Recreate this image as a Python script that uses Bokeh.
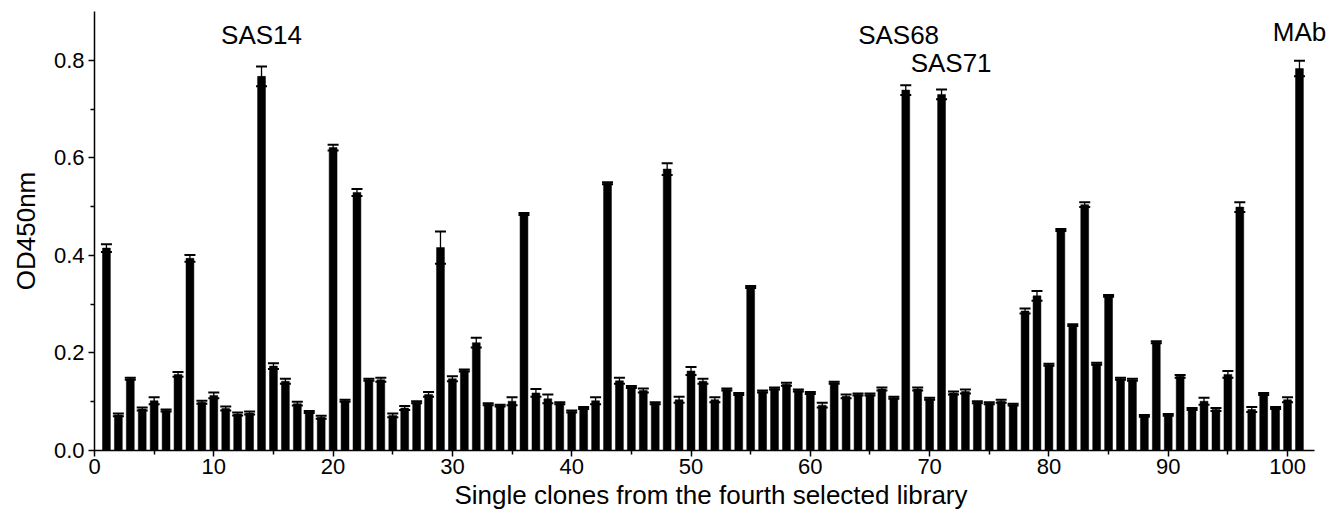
from bokeh.plotting import figure
from bokeh.models import ColumnDataSource, Whisker, TeeHead, FixedTicker, NumeralTickFormatter, Range1d, LabelSet
from bokeh.core.properties import value
from bokeh.embed import file_html
from bokeh.resources import INLINE

clones = list(range(1, 102))
od450 = [
    0.415, 0.073, 0.147, 0.085, 0.102, 0.082, 0.156, 0.394, 0.099, 0.113,
    0.086, 0.075, 0.077, 0.767, 0.173, 0.142, 0.096, 0.079, 0.068, 0.621,
    0.102, 0.529, 0.145, 0.145, 0.072, 0.087, 0.099, 0.115, 0.416, 0.147,
    0.164, 0.221, 0.095, 0.092, 0.101, 0.485, 0.118, 0.106, 0.097, 0.080,
    0.087, 0.102, 0.548, 0.143, 0.130, 0.123, 0.097, 0.577, 0.104, 0.163,
    0.142, 0.104, 0.125, 0.116, 0.335, 0.121, 0.127, 0.136, 0.123, 0.118,
    0.093, 0.139, 0.111, 0.115, 0.115, 0.126, 0.108, 0.739, 0.126, 0.106,
    0.730, 0.118, 0.121, 0.099, 0.097, 0.101, 0.094, 0.286, 0.317, 0.176,
    0.452, 0.257, 0.504, 0.178, 0.317, 0.147, 0.145, 0.071, 0.222, 0.073,
    0.152, 0.085, 0.101, 0.084, 0.156, 0.499, 0.084, 0.116, 0.087, 0.104,
    0.783,
]
errors = [
    0.008, 0.003, 0.002, 0.003, 0.007, 0.002, 0.005, 0.007, 0.003, 0.006,
    0.004, 0.003, 0.003, 0.020, 0.006, 0.005, 0.004, 0.002, 0.003, 0.006,
    0.002, 0.007, 0.002, 0.004, 0.004, 0.004, 0.002, 0.005, 0.033, 0.005,
    0.002, 0.010, 0.002, 0.002, 0.008, 0.002, 0.008, 0.009, 0.002, 0.002,
    0.002, 0.007, 0.002, 0.006, 0.002, 0.004, 0.002, 0.012, 0.006, 0.008,
    0.005, 0.005, 0.002, 0.002, 0.002, 0.002, 0.002, 0.003, 0.002, 0.002,
    0.005, 0.002, 0.004, 0.002, 0.002, 0.003, 0.002, 0.010, 0.003, 0.002,
    0.010, 0.003, 0.004, 0.002, 0.002, 0.003, 0.002, 0.005, 0.010, 0.002,
    0.002, 0.002, 0.005, 0.002, 0.002, 0.002, 0.002, 0.002, 0.002, 0.002,
    0.003, 0.002, 0.007, 0.003, 0.007, 0.010, 0.005, 0.002, 0.002, 0.005,
    0.016,
]
label_names = ["SAS14", "SAS68", "SAS71", "MAb"]
label_x = [14.0, 67.4, 71.8, 101.0]
label_y = [0.852, 0.852, 0.794, 0.858]

x_ticks = [0, 10, 20, 30, 40, 50, 60, 70, 80, 90, 100]
y_ticks = [0.0, 0.2, 0.4, 0.6, 0.8]

FONT = "Liberation Sans"

src = ColumnDataSource(dict(
    x=clones, top=od450,
    upper=[v + e for v, e in zip(od450, errors)],
    lower=[v - e for v, e in zip(od450, errors)],
))

p = figure(width=1327, height=512, output_backend="svg", toolbar_location=None,
           x_range=Range1d(0, 103.35), y_range=Range1d(0, 0.9),
           min_border_left=94, min_border_right=0, min_border_top=11, min_border_bottom=60)
p.outline_line_color = None
p.grid.visible = False
p.background_fill_color = "white"
p.border_fill_color = "white"

p.vbar(x="x", top="top", width=0.66, bottom=0, source=src,
       fill_color="black", line_color="black", line_width=0.5)

w = Whisker(source=src, base="x", upper="upper", lower="lower",
            line_color="black", line_width=1.3, level="overlay",
            upper_head=TeeHead(size=11, line_color="black", line_width=2),
            lower_head=TeeHead(size=11, line_color="black", line_width=2))
p.add_layout(w)

lab_src = ColumnDataSource(dict(x=label_x, y=label_y, t=label_names))
labels = LabelSet(x="x", y="y", text="t", source=lab_src, text_font=value(FONT),
                  text_font_size="26px", text_align="center", text_baseline="middle",
                  text_color="black", level="overlay")
p.add_layout(labels)

for ax in (p.xaxis[0], p.yaxis[0]):
    ax.axis_line_width = 1.5
    ax.axis_line_color = "black"
    ax.major_tick_line_width = 1.5
    ax.minor_tick_line_width = 1.5
    ax.major_tick_in = 0
    ax.major_tick_out = 6
    ax.minor_tick_in = 0
    ax.minor_tick_out = 4
    ax.major_label_text_font = FONT
    ax.major_label_text_font_size = "22px"
    ax.major_label_text_color = "black"
    ax.axis_label_text_font = FONT
    ax.axis_label_text_font_size = "26px"
    ax.axis_label_text_font_style = "normal"
    ax.axis_label_text_color = "black"

p.xaxis.bounds = (0, 102.3)
p.yaxis.bounds = (0, 0.9)
p.xaxis.ticker = FixedTicker(ticks=x_ticks, minor_ticks=[5, 15, 25, 35, 45, 55, 65, 75, 85, 95])
p.yaxis.ticker = FixedTicker(ticks=y_ticks, minor_ticks=[0.1, 0.3, 0.5, 0.7])
p.yaxis.formatter = NumeralTickFormatter(format="0.0")
p.xaxis.axis_label = "Single clones from the fourth selected library"
p.yaxis.axis_label = "OD450nm"
p.xaxis.axis_label_standoff = 3
p.yaxis.axis_label_standoff = 10
p.xaxis.major_label_standoff = 2
p.yaxis.major_label_standoff = 4

open("out.html", "w").write(file_html(p, INLINE))
